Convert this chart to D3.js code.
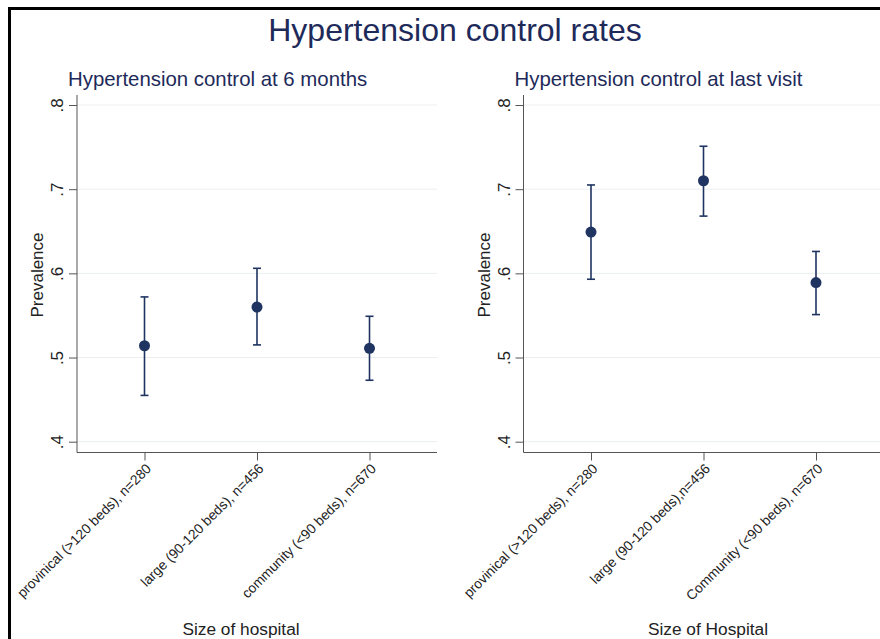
<!DOCTYPE html>
<html>
<head>
<meta charset="utf-8">
<script src="https://cdn.jsdelivr.net/npm/d3@7"></script>
<style>
  body { margin: 0; background: #fff; }
  svg text { font-family: "Liberation Sans", Arial, sans-serif; }
</style>
</head>
<body>
<div id="chart"></div>
<script>
// data
const categoriesLeft = ["provinical (>120 beds), n=280", "large (90-120 beds), n=456", "community (<90 beds), n=670"];
const categoriesRight = ["provinical (>120 beds), n=280", "large (90-120 beds),n=456", "Community (<90 beds), n=670"];
const est6m = [0.514, 0.560, 0.511];
const lo6m = [0.455, 0.515, 0.473];
const hi6m = [0.572, 0.606, 0.549];
const estLast = [0.649, 0.710, 0.589];
const loLast = [0.593, 0.668, 0.551];
const hiLast = [0.705, 0.751, 0.626];
const yTicks = [0.4, 0.5, 0.6, 0.7, 0.8];

const W = 880, H = 639;
const NAVY = "#1f3461";

let svg = d3.select("#chart").append("svg")
    .attr("width", W)
    .attr("height", H);

// outer frame (cropped at right/bottom)
svg.append("path")
    .attr("d", "M9.5," + (H + 5) + " L9.5,8.5 L" + (W + 5) + ",8.5")
    .attr("fill", "none")
    .attr("stroke", "#000")
    .attr("stroke-width", 3);

svg.append("text")
    .attr("x", 455)
    .attr("y", 41)
    .attr("text-anchor", "middle")
    .attr("font-size", 32)
    .attr("fill", "#1e2a5a")
    .text("Hypertension control rates");

let y = d3.scaleLinear().domain([0.4, 0.8]).range([441.7, 105]);

/**
 * Draw one panel with its axes and the estimates with error bars
 */
function drawPanel(left, title, xTitle, xTitleX, cats, est, lo, hi) {
    let right = left + 360;
    let g = svg.append("g");
    let x = d3.scalePoint().domain(cats).range([left, right]).padding(0.6);

    g.append("text")
        .attr("x", left - 9)
        .attr("y", 86)
        .attr("font-size", 20.4)
        .attr("fill", "#1e2a5a")
        .text(title);

    // grid
    g.selectAll(".grid").data(yTicks).enter().append("line")
        .attr("x1", left).attr("x2", right)
        .attr("y1", d => y(d)).attr("y2", d => y(d))
        .attr("stroke", "#eaeef0")
        .attr("stroke-width", 1);

    // y axis
    let yAxis = g.append("g")
        .attr("transform", "translate(" + left + ",0)")
        .call(d3.axisLeft(y).tickValues(yTicks).tickSize(8).tickFormat(d => d3.format(".1f")(d).replace(/^0/, "")));
    yAxis.select(".domain").attr("d", "M0," + 95 + "V452.5").attr("stroke", "#555");
    yAxis.selectAll(".tick line").attr("stroke", "#555");
    yAxis.selectAll(".tick text")
        .attr("font-size", 17)
        .attr("fill", "#222")
        .attr("x", null).attr("dy", null)
        .attr("text-anchor", "middle")
        .attr("transform", "translate(-14,0) rotate(-90)")
        .attr("y", 0);

    // x axis
    let xAxis = g.append("g")
        .attr("transform", "translate(0,452.5)")
        .call(d3.axisBottom(x).tickSize(8));
    xAxis.select(".domain").attr("d", "M" + left + ",0H" + right).attr("stroke", "#555");
    xAxis.selectAll(".tick line").attr("stroke", "#555");
    xAxis.selectAll(".tick text")
        .attr("font-size", 13.8)
        .attr("fill", "#222")
        .attr("y", 0).attr("dy", null)
        .attr("text-anchor", "end")
        .attr("transform", "translate(7,17) rotate(-45)");

    g.append("text")
        .attr("transform", "translate(" + (left - 34) + ",275) rotate(-90)")
        .attr("text-anchor", "middle")
        .attr("font-size", 17)
        .attr("fill", "#222")
        .text("Prevalence");

    g.append("text")
        .attr("x", xTitleX)
        .attr("y", 635)
        .attr("text-anchor", "middle")
        .attr("font-size", 17.3)
        .attr("fill", "#222")
        .text(xTitle);

    // error bars
    let bars = g.selectAll(".bar").data(cats).enter().append("g");
    bars.append("line")
        .attr("x1", d => x(d)).attr("x2", d => x(d))
        .attr("y1", (d, i) => y(lo[i])).attr("y2", (d, i) => y(hi[i]))
        .attr("stroke", NAVY).attr("stroke-width", 1.6);
    [lo, hi].forEach(function (arr) {
        bars.append("line")
            .attr("x1", d => x(d) - 4).attr("x2", d => x(d) + 4)
            .attr("y1", (d, i) => y(arr[i])).attr("y2", (d, i) => y(arr[i]))
            .attr("stroke", NAVY).attr("stroke-width", 1.6);
    });
    bars.append("circle")
        .attr("cx", d => x(d))
        .attr("cy", (d, i) => y(est[i]))
        .attr("r", 5.5)
        .attr("fill", NAVY);
}

drawPanel(77, "Hypertension control at 6 months", "Size of hospital", 241, categoriesLeft, est6m, lo6m, hi6m);
drawPanel(523.5, "Hypertension control at last visit", "Size of Hospital", 708, categoriesRight, estLast, loLast, hiLast);
</script>
</body>
</html>
